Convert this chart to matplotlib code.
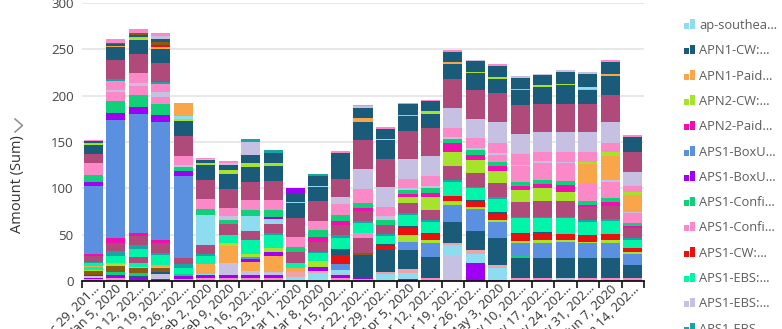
import matplotlib
matplotlib.use('Agg')
import matplotlib.pyplot as plt
from matplotlib.lines import Line2D
from matplotlib.patches import Rectangle
import numpy as np

plt.rcParams['font.family'] = ['Open Sans', 'DejaVu Sans']


### DATA

weeks = ['Dec 29, 201…', 'Jan 5, 2020', 'Jan 12, 202…', 'Jan 19, 202…', 'Jan 26, 202…',
         'Feb 2, 2020', 'Feb 9, 2020', 'Feb 16, 202…', 'Feb 23, 202…', 'Mar 1, 2020',
         'Mar 8, 2020', 'Mar 15, 202…', 'Mar 22, 202…', 'Mar 29, 202…', 'Apr 5, 2020',
         'Apr 12, 202…', 'Apr 19, 202…', 'Apr 26, 202…', 'May 3, 2020', 'May 10, 202…',
         'May 17, 202…', 'May 24, 202…', 'May 31, 202…', 'Jun 7, 2020', 'Jun 14, 202…']

# stacked usage segments, bottom to top (amount per week)
pink_a     = [2, 3.5, 1.5, 0, 2.5, 3.5, 3.5, 3.5, 3.5, 0, 0, 3.5, 2, 0, 0, 3.5, 1, 0, 0, 2.9, 3.5, 0, 3.6, 3.6, 3.6]
purple_a   = [1.5, 2.5, 2, 2.5, 2.8, 3, 3.5, 3.5, 3, 0, 0, 3.5, 2.5, 0, 1.8, 0, 0, 19, 1, 0, 0, 0, 0, 0, 0]
lavender_a = [1.5, 0, 0, 5, 0, 0, 12, 4, 3.5, 0, 0, 1.5, 0, 0, 0, 0, 27, 0, 0, 0, 0, 3.6, 0, 0, 0]
ltblue_a   = [0, 0, 0, 0, 0, 1, 0, 0, 0, 4.6, 8.3, 3.5, 0, 7.5, 6.5, 0, 10.5, 10.4, 12.6, 0, 0, 0, 0, 0, 0]
salmon_a   = [0, 0, 0, 0, 0, 0, 0, 0, 0, 5.4, 2.7, 0, 0, 2.5, 4.3, 0, 3, 4, 3.6, 0, 0, 0, 0, 0, 0]
dkteal_a   = [1, 0, 1.5, 2.5, 0, 0, 0, 0, 0, 0, 0, 0, 23.5, 23.4, 20.8, 22, 22.5, 20.6, 28.8, 22.3, 21.5, 21.5, 21.5, 21.5, 13.6]
green_a    = [0, 4, 3.5, 0, 2.5, 0, 0, 0, 0, 0, 0, 0, 0, 0, 0, 0, 0, 0, 1.7, 1.8, 0, 0, 0, 0, 0]
brown_a    = [5, 6, 5, 4, 0, 0, 0, 0, 0, 0, 0, 0, 1.8, 0, 0, 0, 0, 0, 0, 0, 0, 0, 0, 0, 0]
lime_a     = [1, 2, 1.5, 1.5, 0, 0, 0, 0, 0, 0, 0, 0, 0, 0, 0, 0, 0, 0, 0, 0, 0, 0, 0, 0, 0]
aqua_a     = [3, 0, 4.3, 0, 0, 0, 0, 0, 0, 0, 0, 0, 0, 0, 0, 0, 0, 0, 0, 0, 0, 0, 0, 0, 0]
orange_a   = [1, 1, 0, 2, 0, 11, 18.7, 10, 17, 3.7, 0, 0, 0, 0, 0, 0, 0, 0, 0, 0, 0, 0, 0, 0, 0]
maroon_a   = [0, 0, 6.5, 0, 0, 0, 0, 0, 0, 0, 0, 0, 16.2, 0, 0, 0, 0, 0, 0, 0, 0, 0, 0, 0, 0]
pink_b     = [0, 0, 0, 0, 0, 0, 0, 0, 0, 0, 0, 0, 5.4, 0, 0, 0, 0, 0, 0, 0, 0, 0, 0, 0, 0]
purple_b   = [0, 0, 0, 0, 0, 0, 0, 3, 4, 0, 4.4, 0, 0, 0, 0, 0, 0, 0, 0, 0, 0, 0, 0, 0, 0]
boxu_a     = [0, 0, 0, 0, 0, 0, 0, 2, 0, 0, 0, 6, 0, 0, 9, 15.8, 18, 23.6, 16.2, 13.6, 15.9, 16.5, 15.5, 16.2, 11.5]
lime_b     = [0, 0, 0, 0, 0, 0, 3.6, 3, 5, 0, 6, 0, 0, 0, 7.2, 2.7, 4, 1.8, 1.8, 2.8, 3.6, 2.2, 1.8, 2.8, 2.2]
cw_red     = [0, 0, 0, 0, 0, 0, 0, 0, 0, 0, 0, 10, 0, 4.6, 7.8, 6.3, 6, 6.1, 6.1, 7.2, 7.2, 7.2, 7.2, 6.5, 5]
dkteal_b   = [0, 0, 0, 0, 0, 0, 0, 0, 0, 0, 0, 6, 0, 2, 1.9, 1.1, 0, 1.8, 2.9, 1.5, 1.1, 0, 0, 0, 0]
ebs_aqua   = [3, 8.5, 9, 10.5, 6.5, 9, 8.3, 15, 13.6, 6, 8.4, 12, 11.4, 8.8, 11.7, 12.6, 15, 12.6, 13.7, 15.4, 15.1, 16.9, 14.3, 14.4, 8.3]
teal_a     = [2, 4.5, 4, 2.5, 3.6, 1.5, 0, 0, 2, 0, 1.8, 3.6, 1.9, 1.5, 2, 1.7, 1.8, 1.7, 2.5, 1.8, 1.7, 1.7, 1.9, 1.5, 2.5]
maroon_b   = [6, 9, 10, 10, 7, 9.5, 11.8, 10, 10, 11.9, 10, 10.7, 10.7, 10, 10.7, 10.8, 15.2, 15.1, 15.1, 16.2, 16.2, 16.2, 14.3, 14.7, 10]
ltblue_b   = [0, 0, 0, 0, 0, 33, 0, 16, 5.2, 0, 0, 0, 0, 0, 0, 0, 0, 0, 0, 0, 0, 0, 0, 0, 0]
apn2_cw    = [0, 0, 0, 0, 0, 0, 0, 0, 0, 0, 0, 0, 0, 0, 7.1, 13.7, 14.7, 13.7, 12.9, 12.6, 14.3, 10.5, 0, 0, 0]
apn2_paid  = [2, 5, 3.5, 3.5, 0, 0, 0, 0, 0, 0, 5.4, 4.4, 3, 0, 3, 5, 9.7, 6.1, 5.4, 4.3, 4.7, 7.4, 1.8, 4.3, 2.9]
boxu_big   = [73, 128, 127.7, 127.5, 88.5, 0, 0, 0, 0, 0, 0, 0, 0, 0, 0, 0, 0, 0, 0, 0, 0, 0, 0, 0, 0]
boxu_purp  = [4.5, 7, 8, 7.5, 5, 0, 0, 0, 1.8, 0, 0, 0, 0, 0, 0, 0, 0, 0, 0, 0, 0, 0, 0, 0, 0]
confi_grn  = [8, 13, 12.5, 12.5, 5, 6, 4.3, 6.5, 8, 4.7, 8, 6.3, 5.3, 5.4, 4.2, 4.8, 4.3, 4.7, 4.3, 4.3, 4.2, 4.3, 4.7, 4.4, 2.5]
confi_pink = [5, 10, 9.5, 7, 0, 0, 0, 0, 0, 0, 0, 0, 0, 0, 0, 0, 0, 0, 7.2, 17.2, 18, 19, 18.7, 17.2, 10.8]
lavender_b = [0, 2, 4, 5, 1.5, 0, 4.3, 0, 0, 0, 0, 0, 0, 4.7, 2, 2.7, 2.8, 1.8, 1.8, 1.8, 2.5, 1.7, 0, 1.8, 1.8]
apn1_paid  = [0, 0, 0, 0, 0, 0, 0, 0, 0, 0, 0, 0, 0, 0, 0, 0, 0, 0, 0, 0, 0, 0, 20.9, 26.2, 18]
lime_c     = [0, 0, 0, 0, 0, 0, 0, 0, 0, 0, 0, 0, 0, 0, 0, 0, 0, 0, 0, 0, 0, 0, 2.5, 4.4, 3.6]
pink_c     = [7.5, 10, 10.5, 9, 9.8, 11, 8.3, 10.8, 10.7, 11.4, 10, 11.6, 15.3, 9.6, 9.6, 10.3, 9.7, 10.8, 11.8, 11.2, 10, 10.8, 10.8, 9.9, 6.4]
teal_b     = [0, 2.5, 0, 2, 0, 0, 0, 0, 0, 0, 0, 0, 0, 0, 0, 0, 0, 0, 0, 0, 0, 0, 0, 0, 0]
ebs_lav    = [0, 0, 0, 0, 0, 0, 0, 0, 0, 0, 0, 8.2, 21.7, 21.6, 21.9, 21.7, 21.5, 21.5, 22.3, 21.5, 21.5, 21.5, 21.5, 22.3, 15.1]
maroon_c   = [10.5, 19.5, 20, 20.5, 21.3, 21, 20.5, 19.7, 20.5, 19.8, 21.5, 18.8, 31.3, 29.9, 30.5, 30.9, 31, 30.5, 31.6, 31.3, 30.5, 30.5, 30.5, 29.5, 21.6]
apn1_cw    = [9, 15, 16, 15, 17, 15.5, 16.5, 16, 16.2, 17, 15, 0, 19.7, 20.5, 15.8, 15.1, 16.1, 18.2, 15.1, 16.2, 17.9, 19.7, 14.4, 20.1, 16.1]
lime_d     = [1, 0, 1.5, 0, 2, 2.5, 4.3, 4, 3, 0, 0, 0, 0, 0, 1.2, 2.8, 0, 2, 1.8, 1.7, 1.8, 1.8, 1.8, 0, 0]
ltblue_c   = [0, 0, 0, 0, 3.5, 0, 0, 0, 0, 1, 0.8, 1, 0, 0.7, 0, 0, 0, 0, 0, 0, 0, 0, 1.7, 0, 0]
orange_b   = [1.5, 1, 1, 2.5, 13, 0, 0, 0, 0, 0, 0, 0, 4.3, 0, 0, 0, 2.5, 0, 0, 0, 0, 0, 0, 1.7, 0]
dkteal_c   = [2, 1.5, 2, 0, 0, 3, 5.4, 9, 11, 9.7, 10.7, 27, 11.2, 10.8, 11.7, 10.5, 10.7, 11, 11.5, 11.6, 11.4, 12.6, 14.5, 13.3, 0]
red_b      = [0, 0, 1, 2, 0, 0, 0, 0, 0, 0, 0, 0, 0, 0, 0, 0, 0, 0, 0, 0, 0, 0, 0, 0, 0]
brown_b    = [0, 1.5, 2, 3.5, 0, 0, 0, 0, 0, 0, 0, 0, 0, 0, 0, 0, 0, 0, 0, 0, 0, 0, 0, 0, 0]
dkteal_d   = [0, 0, 0, 3.5, 0, 0, 0, 0, 0, 0, 0, 0, 0, 0, 0, 0, 0, 0, 0, 0, 0, 0, 0, 0, 0]
lavender_c = [0, 0, 0, 2.5, 0, 1, 2, 14, 0, 0, 0, 0, 1.5, 1, 0, 0, 0, 1, 0, 2.1, 1.1, 1.8, 1.7, 0, 0]
teal_c     = [0, 0, 0, 0, 0, 0, 0, 3.7, 3, 0, 2, 0, 0, 0, 0, 0, 0, 0, 0, 0, 0, 0, 0, 0, 0]
purple_c   = [0, 0, 0, 0, 0, 0, 0, 0, 0, 4.8, 0, 0, 0, 0, 0, 0, 0, 0, 0, 0, 0, 0, 0, 0, 0]
pink_d     = [1, 4, 4, 4, 1, 1.5, 2, 0, 0, 0, 0, 2.4, 1.3, 1.5, 1.3, 1.8, 2, 0, 2.1, 0, 0, 0, 0, 1.7, 1.8]

legend_labels = ['ap-southea…', 'APN1-CW:…', 'APN1-Paid…', 'APN2-CW:…', 'APN2-Paid…',
                 'APS1-BoxU…', 'APS1-BoxU…', 'APS1-Confi…', 'APS1-Confi…', 'APS1-CW:…',
                 'APS1-EBS:…', 'APS1-EBS:…', 'APS1-EBS…']


### COLOR SCHEME

color = {
    'ltblue': '#8edcf0', 'dkteal': '#1a5b79', 'orange': '#f9a64a', 'lime': '#a6e42c',
    'magenta': '#f00fae', 'blue': '#5b8fe0', 'purple': '#9f00f3', 'green': '#10d07a',
    'pink': '#fb89c8', 'red': '#e8110f', 'aqua': '#00f5a8', 'lavender': '#c6c1e3',
    'teal': '#1aa5a5', 'maroon': '#b04a7a', 'brown': '#8a5a14', 'salmon': '#eea2aa',
}

legend_colors = ['ltblue', 'dkteal', 'orange', 'lime', 'magenta', 'blue', 'purple',
                 'green', 'pink', 'red', 'aqua', 'lavender', 'teal']

stack = [
    (pink_a, 'pink'), (purple_a, 'purple'), (lavender_a, 'lavender'), (ltblue_a, 'ltblue'),
    (salmon_a, 'salmon'), (dkteal_a, 'dkteal'), (green_a, 'green'), (brown_a, 'brown'),
    (lime_a, 'lime'), (aqua_a, 'aqua'), (orange_a, 'orange'), (maroon_a, 'maroon'),
    (pink_b, 'pink'), (purple_b, 'purple'), (boxu_a, 'blue'), (lime_b, 'lime'),
    (cw_red, 'red'), (dkteal_b, 'dkteal'), (ebs_aqua, 'aqua'), (teal_a, 'teal'),
    (maroon_b, 'maroon'), (ltblue_b, 'ltblue'), (apn2_cw, 'lime'), (apn2_paid, 'magenta'),
    (boxu_big, 'blue'), (boxu_purp, 'purple'), (confi_grn, 'green'), (confi_pink, 'pink'),
    (lavender_b, 'lavender'), (apn1_paid, 'orange'), (lime_c, 'lime'), (pink_c, 'pink'),
    (teal_b, 'teal'), (ebs_lav, 'lavender'), (maroon_c, 'maroon'), (apn1_cw, 'dkteal'),
    (lime_d, 'lime'), (ltblue_c, 'ltblue'), (orange_b, 'orange'), (dkteal_c, 'dkteal'),
    (red_b, 'red'), (brown_b, 'brown'), (dkteal_d, 'dkteal'), (lavender_c, 'lavender'),
    (teal_c, 'teal'), (purple_c, 'purple'), (pink_d, 'pink'),
]


### FIGURE

W, H = 782, 329
fig = plt.figure(figsize=(W / 100, H / 100), dpi=100)
ax = fig.add_axes([82 / W, 1 - 281 / H, (644 - 82) / W, 278 / H])

x = np.arange(len(weeks))
bottom = np.zeros(len(weeks))
for vals, c in stack:
    vals = np.array(vals, dtype=float)
    ax.bar(x, vals, width=0.85, bottom=bottom, color=color[c], linewidth=0, zorder=2)
    bottom += vals

ax.set_xlim(-0.5, len(weeks) - 0.5)
ax.set_ylim(0, 300)
ax.set_yticks(range(0, 301, 50))
ax.grid(axis='y', color='#e2e2e2', linewidth=1.1, zorder=0)
ax.set_axisbelow(True)

for s in ['top', 'right', 'left']:
    ax.spines[s].set_visible(False)
ax.spines['bottom'].set_color('#111111')
ax.spines['bottom'].set_linewidth(1.3)

ax.tick_params(axis='y', length=0, pad=6, labelsize=9.5, labelcolor='#444444')
ax.set_xticks(x)
ax.set_xticklabels(weeks, rotation=45, ha='right', rotation_mode='anchor',
                   fontsize=9.3, color='#333333')
ax.tick_params(axis='x', which='major', length=0, pad=0.5)
ax.set_xticks(np.arange(-0.5, len(weeks)), minor=True)
ax.tick_params(axis='x', which='minor', length=5, width=1.2, color='#111111')

# axis title with its chevron
fig.text(18 / W, 1 - 184 / H, 'Amount (Sum)', rotation=90, ha='center', va='center',
         fontsize=10.5, color='#333333')
fig.add_artist(Line2D([15 / W, 22.5 / W, 15 / W], [1 - 119 / H, 1 - 125.5 / H, 1 - 132 / H],
                      transform=fig.transFigure, color='#8c8c8c', linewidth=1.1))

# legend
for i, (label, c) in enumerate(zip(legend_labels, legend_colors)):
    yc = 25.5 + i * 25.3
    fig.add_artist(Rectangle((684 / W, 1 - (yc + 3.5) / H), 5 / W, 6 / H,
                             transform=fig.transFigure, color=color[c], linewidth=0))
    fig.add_artist(Rectangle((690 / W, 1 - (yc + 3.5) / H), 5 / W, 9.5 / H,
                             transform=fig.transFigure, color=color[c], linewidth=0))
    fig.text(699 / W, 1 - yc / H, label, ha='left', va='center', fontsize=9.3, color='#5c5c5c')

fig.savefig('out.png', dpi=100)
